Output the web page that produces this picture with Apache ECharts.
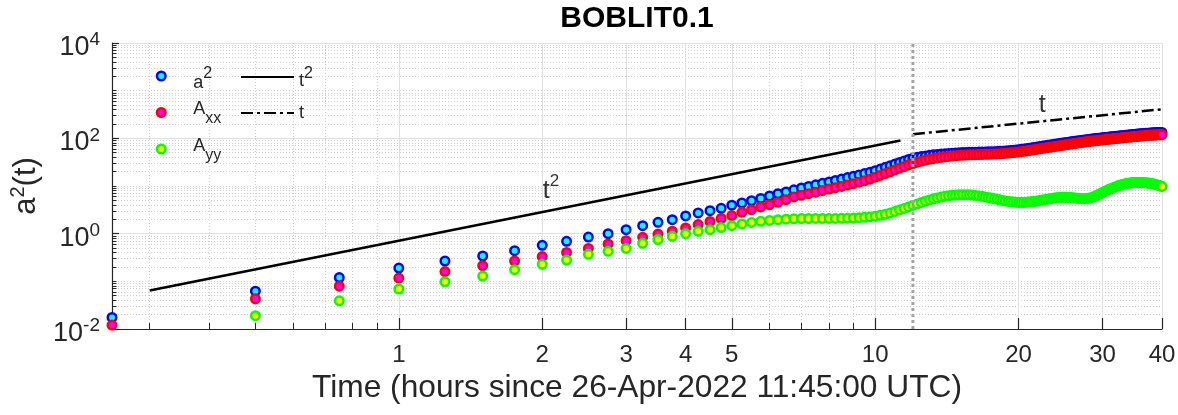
<!DOCTYPE html>
<html>
<head>
<meta charset="utf-8">
<script src="https://cdn.jsdelivr.net/npm/echarts@6/dist/echarts.min.js"></script>
<style>
  html, body { margin: 0; padding: 0; background: #ffffff; }
  #chart { width: 1178px; height: 415px; }
</style>
</head>
<body>
<div id="chart"></div>
<script>
// Sampling grid: one sample every quarter hour
const hours = Array.from({ length: 160 }, (_, i) => 0.25 * (i + 1));

// a^2(t)
const a2 = [
  0.0175, 0.062, 0.12, 0.19, 0.267, 0.34, 0.44, 0.57, 0.69, 0.85,
  1.0, 1.21, 1.47, 1.73, 1.97, 2.35, 2.72, 3.04, 3.4, 3.95,
  4.4, 4.92, 5.5, 6.2, 6.9, 7.5, 8.3, 9.1, 9.8, 10.6,
  11.4, 12.2, 13.1, 14.0, 15.0, 16.0, 17.1, 18.2, 19.4, 21.0,
  22.7, 24.6, 26.7, 28.9, 31.2, 33.6, 36.0, 38.3, 40.0, 41.5,
  42.8, 44.0, 45.0, 46.0, 46.8, 47.6, 48.3, 48.9, 49.4, 49.9,
  50.3, 50.6, 50.9, 51.1, 51.3, 51.5, 51.7, 51.9, 52.1, 52.3,
  52.6, 52.9, 53.3, 53.7, 54.2, 54.8, 55.5, 56.2, 57.0, 57.9,
  58.8, 59.8, 60.8, 61.9, 63.0, 64.1, 65.2, 66.4, 67.6, 68.8,
  70.0, 71.2, 72.4, 73.6, 74.8, 76.0, 77.2, 78.4, 79.6, 80.8,
  82.0, 83.2, 84.4, 85.6, 86.8, 88.0, 89.2, 90.4, 91.5, 92.6,
  93.7, 94.8, 95.9, 96.9, 97.9, 98.9, 99.9, 100.9, 101.9, 102.9,
  103.8, 104.7, 105.6, 106.5, 107.4, 108.3, 109.2, 110.1, 111.0, 111.9,
  112.8, 113.7, 114.6, 115.5, 116.4, 117.3, 118.2, 119.1, 120.0, 120.9,
  121.8, 122.6, 123.4, 124.2, 125.0, 125.8, 126.5, 127.2, 127.9, 128.6,
  129.2, 129.8, 130.4, 130.9, 131.4, 131.9, 132.3, 132.7, 133.0, 133.3
];

// A_xx(t)
const axx = [
  0.0121, 0.043, 0.079, 0.117, 0.16, 0.213, 0.267, 0.33, 0.405, 0.49,
  0.607, 0.713, 0.837, 0.98, 1.13, 1.32, 1.55, 1.8, 2.08, 2.4,
  2.8, 3.19, 3.63, 4.06, 4.54, 5.17, 5.89, 6.4, 6.9, 7.4,
  8.0, 8.6, 9.2, 9.8, 10.5, 11.2, 12.0, 12.9, 13.9, 15.3,
  16.7, 18.2, 19.9, 21.7, 23.6, 25.6, 27.6, 29.6, 31.5, 33.2,
  34.8, 36.2, 37.5, 38.7, 39.8, 40.8, 41.7, 42.5, 43.2, 43.8,
  44.3, 44.7, 45.0, 45.3, 45.5, 45.7, 45.9, 46.1, 46.3, 46.5,
  46.8, 47.1, 47.5, 47.9, 48.4, 49.0, 49.6, 50.3, 51.0, 51.8,
  52.6, 53.5, 54.4, 55.4, 56.4, 57.4, 58.4, 59.5, 60.6, 61.7,
  62.8, 63.9, 65.0, 66.1, 67.2, 68.3, 69.4, 70.5, 71.6, 72.7,
  73.8, 74.9, 76.0, 77.1, 78.2, 79.3, 80.4, 81.5, 82.5, 83.5,
  84.5, 85.5, 86.5, 87.4, 88.3, 89.2, 90.1, 91.0, 91.9, 92.8,
  93.6, 94.4, 95.2, 96.0, 96.8, 97.6, 98.4, 99.2, 100.0, 100.8,
  101.6, 102.4, 103.2, 104.0, 104.8, 105.6, 106.4, 107.2, 108.0, 108.8,
  109.6, 110.3, 111.0, 111.7, 112.4, 113.1, 113.7, 114.3, 114.9, 115.5,
  116.0, 116.5, 117.0, 117.4, 117.8, 118.2, 118.5, 118.8, 119.0, 119.2
];

// A_yy(t); the first sample lies below the plotted range
const ayy = [
  null, 0.019, 0.039, 0.069, 0.098, 0.129, 0.176, 0.227, 0.28, 0.368,
  0.426, 0.49, 0.626, 0.75, 0.88, 1.0, 1.12, 1.21, 1.34, 1.47,
  1.6, 1.72, 1.82, 1.9, 1.96, 2.01, 2.05, 2.07, 2.08, 2.09,
  2.09, 2.09, 2.09, 2.1, 2.11, 2.13, 2.16, 2.2, 2.25, 2.32,
  2.42, 2.55, 2.72, 2.92, 3.14, 3.38, 3.64, 3.92, 4.2, 4.5,
  4.8, 5.1, 5.38, 5.63, 5.86, 6.06, 6.23, 6.37, 6.48, 6.55,
  6.58, 6.57, 6.52, 6.44, 6.33, 6.2, 6.06, 5.91, 5.76, 5.6,
  5.44, 5.28, 5.13, 4.99, 4.87, 4.76, 4.67, 4.6, 4.55, 4.52,
  4.51, 4.52, 4.55, 4.6, 4.66, 4.73, 4.81, 4.9, 5.0, 5.1,
  5.2, 5.3, 5.4, 5.5, 5.58, 5.66, 5.72, 5.77, 5.8, 5.81,
  5.8, 5.77, 5.72, 5.66, 5.6, 5.54, 5.49, 5.45, 5.43, 5.43,
  5.46, 5.52, 5.62, 5.76, 5.94, 6.16, 6.42, 6.7, 7.0, 7.3,
  7.6, 7.9, 8.2, 8.5, 8.8, 9.1, 9.4, 9.7, 9.95, 10.2,
  10.45, 10.7, 10.9, 11.1, 11.3, 11.45, 11.6, 11.7, 11.8, 11.85,
  11.9, 11.9, 11.9, 11.88, 11.85, 11.8, 11.75, 11.7, 11.6, 11.5,
  11.4, 11.25, 11.1, 10.95, 10.8, 10.6, 10.4, 10.2, 10.0, 9.8
];

// Power-law guide lines (hour, value) and regime split
const guideT2 = [[0.3, 0.064], [11.3, 90]];
const guideT1 = [[12, 122], [40, 407]];
const regimeHour = 12;

// Axis ranges and ticks
const xRange = [0.25, 40];
const yRange = [0.01, 10000];
const xMajorTicks = [1, 2, 3, 4, 5, 10, 20, 30, 40];
const xMinorTicks = [0.3, 0.4, 0.5, 0.6, 0.7, 0.8, 0.9, 6, 7, 8, 9];
const yMajorExponents = [-2, 0, 2, 4];

// Text annotations placed in data coordinates
const guideNotes = [
  { hour: 2, level: 8, text: '{m|t}{s|2}' },
  { hour: 22, level: 500, text: '{m|t}' }
];

const L = Math.log10;
const FONT = '"Liberation Sans", Arial, Helvetica, sans-serif';
const INK = '#262626';

// minor log positions n*10^k on the value axis
const yMinor = [];
for (let k = L(yRange[0]); k < L(yRange[1]); k++) {
  for (let n = 1; n <= 9; n++) {
    if (n === 1 && yMajorExponents.includes(k)) continue;
    yMinor.push(k + L(n));
  }
}

const logPairs = ys => hours
  .map((t, i) => (ys[i] == null ? null : [L(t), L(ys[i])]))
  .filter(Boolean);
const logLine = pts => pts.map(p => [L(p[0]), L(p[1])]);

// rich token: every token spans the full row height, `height` sets its offset
const tok = (fontSize, height, verticalAlign, color) => ({
  fontSize, height, verticalAlign, lineHeight: 36, fontFamily: FONT, color: color || INK
});

const legendText = {
  a2: '{am|a}{sup|2}',
  Axx: '{Am|A}{sub|xx}',
  Ayy: '{Am|A}{sub|yy}',
  tsq: '{tq|t}{tsup|2}',
  tlin: '{tm|t}'
};
const legendRich = {
  am: tok(18, 22, 'bottom'),
  sup: tok(16, 32, 'top'),
  Am: tok(18, 30, 'top'),
  sub: tok(16, 23, 'bottom'),
  tq: tok(18, 28, 'bottom'),
  tsup: tok(16, 30, 'top'),
  tm: tok(18, 36, 'middle')
};

const markerSeries = (name, ys, edge, fill) => ({
  type: 'scatter',
  name,
  data: logPairs(ys),
  symbol: 'circle',
  symbolSize: 8.5,
  clip: false,
  itemStyle: { color: fill, borderColor: edge, borderWidth: 2.5, opacity: 1 },
  emphasis: { disabled: true },
  silent: true
});

const chart = echarts.init(document.getElementById('chart'), null, { renderer: 'canvas' });

chart.setOption({
  animation: false,
  backgroundColor: '#ffffff',
  title: {
    text: 'BOBLIT0.1',
    left: 637,
    top: 4,
    padding: 0,
    textAlign: 'center',
    textStyle: { fontFamily: FONT, fontSize: 30, fontWeight: 'bold', color: '#000000' }
  },
  grid: { left: 112, right: 16, top: 43, bottom: 86, outerBoundsMode: 'none' },
  legend: [
    {
      data: ['a2', 'Axx', 'Ayy'],
      orient: 'vertical',
      left: 155.75,
      top: 58,
      padding: 0,
      itemGap: 0.5,
      itemWidth: 54,
      itemHeight: 8.5,
      selectedMode: false,
      itemStyle: { borderWidth: 2.5 },
      formatter: n => legendText[n],
      textStyle: { fontFamily: FONT, color: INK, lineHeight: 36, rich: legendRich }
    },
    {
      data: ['tsq', 'tlin'],
      orient: 'vertical',
      left: 240,
      top: 59,
      padding: 0,
      itemGap: 0,
      itemWidth: 53,
      itemHeight: 14,
      selectedMode: false,
      itemStyle: { opacity: 0, color: 'rgba(0,0,0,0)', borderWidth: 0 },
      formatter: n => legendText[n],
      textStyle: { fontFamily: FONT, color: INK, lineHeight: 36, rich: legendRich }
    }
  ],
  xAxis: [
    {
      type: 'value',
      min: L(xRange[0]),
      max: L(xRange[1]),
      position: 'bottom',
      axisLine: { show: true, onZero: false, lineStyle: { color: INK, width: 1.2 } },
      axisTick: {
        show: true, inside: true, length: 11,
        customValues: xMajorTicks.map(L),
        lineStyle: { color: INK, width: 1.2 }
      },
      axisLabel: {
        customValues: xMajorTicks.map(L),
        formatter: v => String(Math.round(Math.pow(10, v))),
        fontFamily: FONT, fontSize: 24, color: INK, margin: 14
      },
      splitLine: { show: true, lineStyle: { color: '#e0e0e0', width: 1 } },
      name: 'Time (hours since 26-Apr-2022 11:45:00 UTC)',
      nameLocation: 'middle',
      nameGap: 41,
      nameTextStyle: { fontFamily: FONT, fontSize: 31.7, color: INK }
    },
    {
      type: 'value',
      min: L(xRange[0]),
      max: L(xRange[1]),
      position: 'bottom',
      axisLine: { show: false, onZero: false },
      axisTick: {
        show: true, inside: true, length: 6,
        customValues: xMinorTicks.map(L),
        lineStyle: { color: INK, width: 1 }
      },
      axisLabel: { show: false },
      splitLine: { show: true, lineStyle: { color: '#cfcfcf', width: 1, type: [1, 2] } }
    }
  ],
  yAxis: [
    {
      type: 'value',
      min: L(yRange[0]),
      max: L(yRange[1]),
      position: 'left',
      axisLine: { show: true, onZero: false, lineStyle: { color: INK, width: 1.2 } },
      axisTick: {
        show: true, inside: true, length: 7,
        customValues: yMajorExponents,
        lineStyle: { color: INK, width: 1.2 }
      },
      axisLabel: {
        customValues: yMajorExponents,
        formatter: v => '{b|10}{s|' + Math.round(v) + '}',
        margin: 12,
        lineHeight: 36,
        rich: {
          b: tok(27, 27, 'bottom'),
          s: tok(19, 30, 'top')
        }
      },
      splitLine: { show: true, lineStyle: { color: '#e0e0e0', width: 1 } },
      name: '{m|a}{s|2}{m|(t)}',
      nameLocation: 'middle',
      nameRotate: 90,
      nameGap: 66,
      nameTextStyle: {
        rich: {
          m: { fontSize: 31, lineHeight: 36, fontFamily: FONT, color: INK },
          s: { fontSize: 20, lineHeight: 22, verticalAlign: 'top', fontFamily: FONT, color: INK }
        }
      }
    },
    {
      type: 'value',
      min: L(yRange[0]),
      max: L(yRange[1]),
      position: 'left',
      axisLine: { show: false, onZero: false },
      axisTick: {
        show: true, inside: true, length: 4.5,
        customValues: yMinor,
        lineStyle: { color: INK, width: 1 }
      },
      axisLabel: { show: false },
      splitLine: { show: true, lineStyle: { color: '#cfcfcf', width: 1, type: [1, 2] } }
    }
  ],
  series: [
    markerSeries('a2', a2, '#0000ff', '#00ffff'),
    markerSeries('Axx', axx, '#ff0000', '#ff00ff'),
    markerSeries('Ayy', ayy, '#00ff00', '#ffff00'),
    {
      type: 'line',
      name: 'tsq',
      data: logLine(guideT2),
      symbol: 'none',
      lineStyle: { color: '#000000', width: 2.5 },
      silent: true
    },
    {
      type: 'line',
      name: 'tlin',
      data: logLine(guideT1),
      symbol: 'none',
      lineStyle: { color: '#000000', width: 2.5, type: [12, 4, 3, 4] },
      silent: true
    },
    {
      type: 'line',
      name: 'regime',
      data: [[L(regimeHour), L(yRange[0])], [L(regimeHour), L(yRange[1])]],
      symbol: 'none',
      lineStyle: { color: '#a3a3a3', width: 3, type: [3, 3] },
      silent: true
    },
    {
      type: 'scatter',
      name: 'notes',
      data: guideNotes.map(g => ({
        value: [L(g.hour), L(g.level)],
        label: { formatter: g.text }
      })),
      symbolSize: 1,
      itemStyle: { color: 'rgba(0,0,0,0)' },
      label: {
        show: true,
        position: 'right',
        distance: 0,
        rich: {
          m: { fontSize: 25, lineHeight: 30, fontFamily: FONT, color: '#000000' },
          s: { fontSize: 17, height: 11, verticalAlign: 'top', fontFamily: FONT, color: '#000000' }
        }
      },
      silent: true
    }
  ]
});
</script>
</body>
</html>
